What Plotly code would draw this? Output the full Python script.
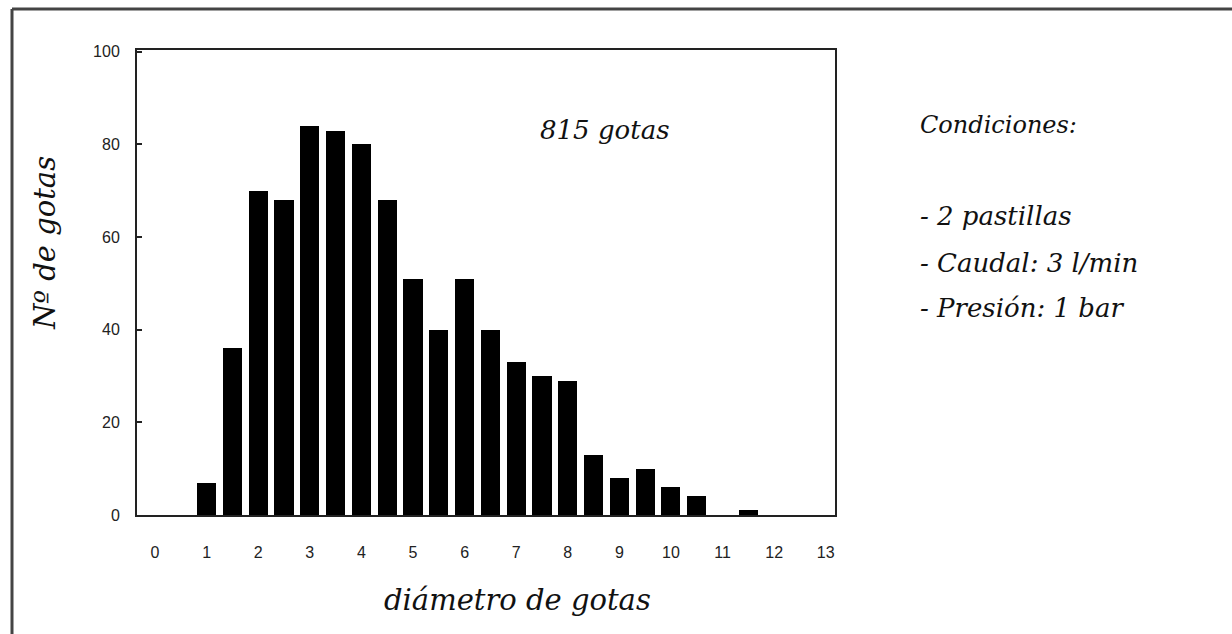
import plotly.graph_objects as go

# Data
diametro = [1.0, 1.5, 2.0, 2.5, 3.0, 3.5, 4.0, 4.5, 5.0, 5.5, 6.0, 6.5, 7.0,
            7.5, 8.0, 8.5, 9.0, 9.5, 10.0, 10.5, 11.0, 11.5]
n_gotas = [7, 36, 70, 68, 84, 83, 80, 68, 51, 40, 51, 40, 33,
           30, 29, 13, 8, 10, 6, 4, 0, 1]
x_ticks = list(range(0, 14))
y_ticks = [0, 20, 40, 60, 80, 100]

serif = "DejaVu Serif, Liberation Serif, serif"
tickfont = dict(family="Liberation Sans Narrow, Liberation Sans, Arial Narrow, sans-serif",
                size=16, color="#222")

fig = go.Figure()
fig.add_trace(go.Bar(x=diametro, y=n_gotas, width=0.37,
                     marker=dict(color="#000000", line=dict(width=0))))

fig.update_layout(
    width=1232, height=634,
    margin=dict(l=137, r=397, t=50, b=119),
    paper_bgcolor="white", plot_bgcolor="white",
    showlegend=False,
    bargap=0,
)
fig.update_xaxes(range=[-0.35, 13.18], tickvals=x_ticks, ticktext=[str(v) for v in x_ticks],
                 showgrid=False, zeroline=False, showline=True, linecolor="#222", linewidth=2,
                 mirror=True, ticks="", tickfont=tickfont, ticklabelstandoff=22)
fig.update_yaxes(range=[0, 100.4], tickvals=y_ticks, ticktext=[str(v) for v in y_ticks],
                 showgrid=False, zeroline=False, showline=True, linecolor="#222", linewidth=2,
                 mirror=True, ticks="inside", ticklen=5, tickcolor="#222", tickwidth=1.5,
                 tickfont=tickfont, ticklabelstandoff=12)

def px(xp):
    return (xp - 137) / (835 - 137)
def py(yp):
    return (515 - yp) / (515 - 50)

fig.add_annotation(x=px(604), y=py(130), xref="paper", yref="paper", text="<i>815 gotas</i>",
                   showarrow=False, xanchor="center", yanchor="middle",
                   font=dict(family=serif, size=26, color="#111"))
fig.add_annotation(x=px(517), y=py(600), xref="paper", yref="paper", text="<i>diámetro de gotas</i>",
                   showarrow=False, xanchor="center", yanchor="middle",
                   font=dict(family=serif, size=29, color="#111"))
fig.add_annotation(x=px(45), y=py(243), xref="paper", yref="paper", text="<i>Nº de gotas</i>",
                   showarrow=False, xanchor="center", yanchor="middle", textangle=-90,
                   font=dict(family=serif, size=29, color="#111"))
for s, yp, sz in [("Condiciones:", 125, 24), ("- 2 pastillas", 216, 26),
                  ("- Caudal: 3 l/min", 263, 26), ("- Presión: 1 bar", 308, 26)]:
    fig.add_annotation(x=px(918), y=py(yp), xref="paper", yref="paper", text="<i>" + s + "</i>",
                       showarrow=False, xanchor="left", yanchor="middle",
                       font=dict(family=serif, size=sz, color="#111"))

# outer frame (top and left edges visible in the reference)
fig.add_shape(type="line", xref="paper", yref="paper", x0=px(12), x1=px(1232), y0=py(9), y1=py(9),
              line=dict(color="#444", width=3))
fig.add_shape(type="line", xref="paper", yref="paper", x0=px(12), x1=px(12), y0=py(9), y1=py(634),
              line=dict(color="#444", width=3))

fig.write_html("out.html", config={"displayModeBar": False},
               post_script="document.body.style.margin='0';")
